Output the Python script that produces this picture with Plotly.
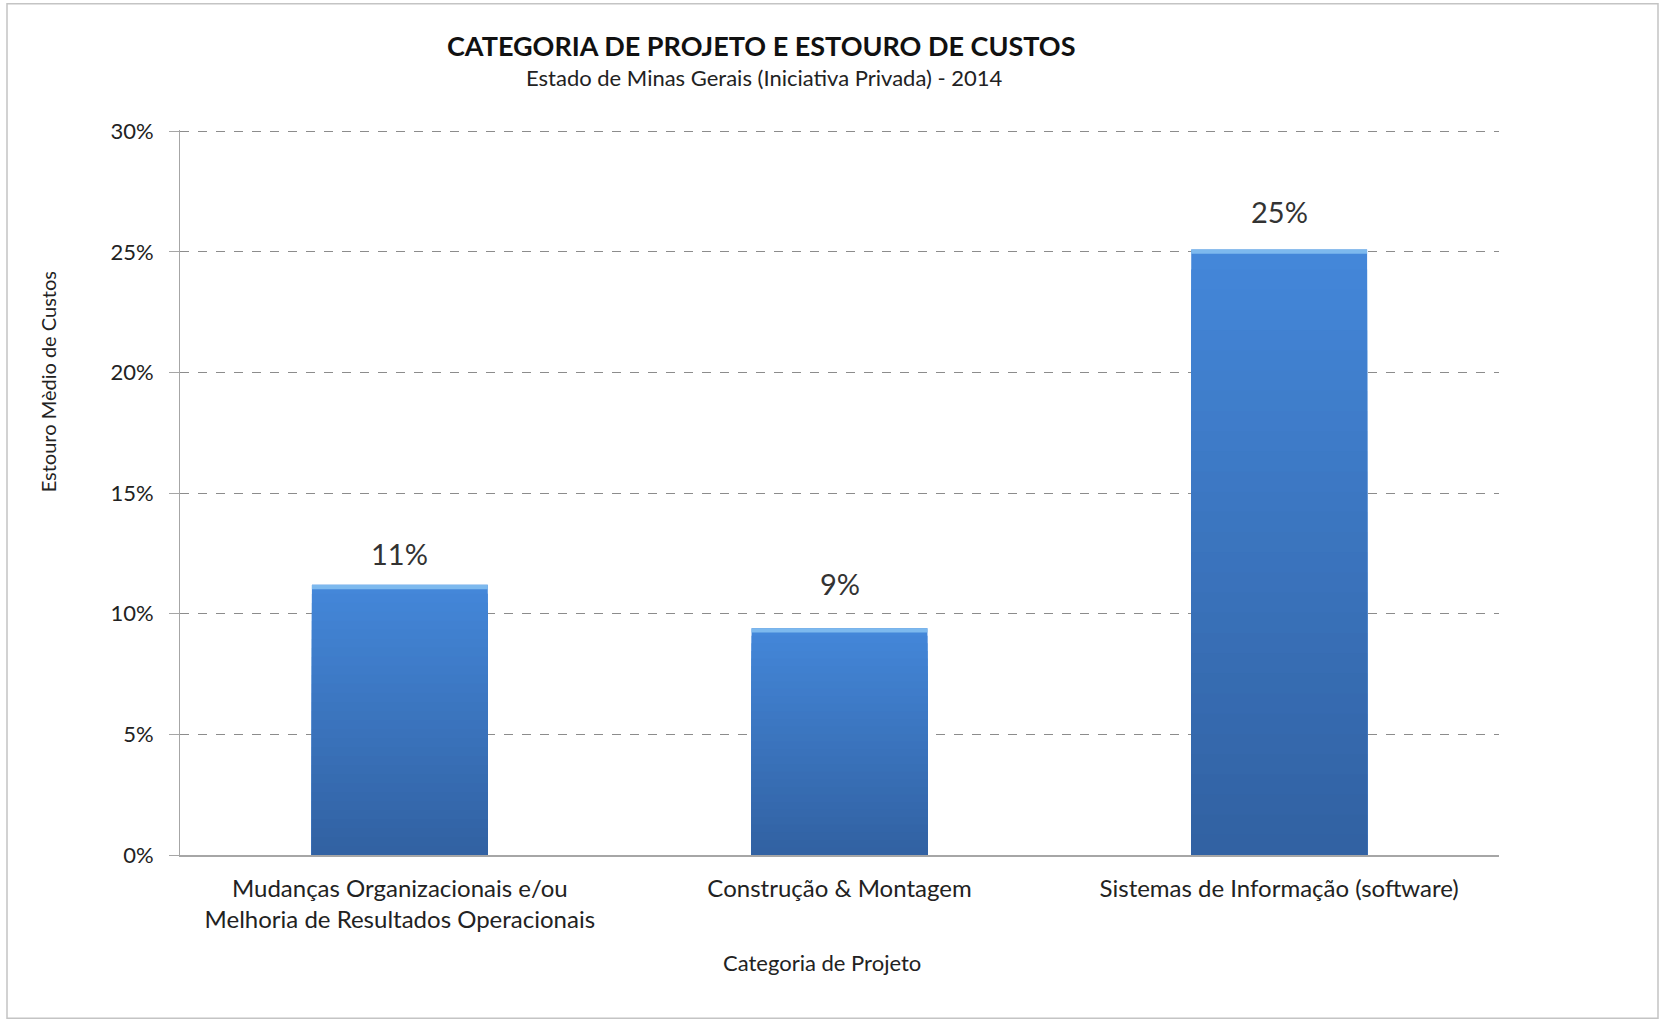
import plotly.graph_objects as go

# Data
categories = [
    "Mudanças Organizacionais e/ou<br>Melhoria de Resultados Operacionais",
    "Construção & Montagem",
    "Sistemas de Informação (software)",
]
overrun = [0.112, 0.094, 0.251]
y_ticks = [0, 0.05, 0.10, 0.15, 0.20, 0.25, 0.30]

# Vertical pixel offset of each value label above its bar
label_offsets = [12, 25, 18]

# Layout geometry (pixels)
W, H = 1661, 1025
L, R, T, B = 180, 162, 131, 170
PW, PH = W - L - R, H - T - B


def px(x):
    return (x - L) / PW


def py(y):
    return (H - B - y) / PH


FONT = "Lato"
TOP_RGB = (68, 135, 217)
BOT_RGB = (50, 98, 163)
STEPS = 30

fig = go.Figure()

# Vertical gradient: stacked overlays of shrinking height, light at top, dark at bottom
for i in range(STEPS):
    f = 1 - i / STEPS
    t = i / (STEPS - 1)
    r, g, b = (int(TOP_RGB[k] + (BOT_RGB[k] - TOP_RGB[k]) * t) for k in range(3))
    fig.add_trace(go.Bar(
        x=categories, y=[v * f for v in overrun], width=0.4,
        marker=dict(color=f"rgb({r},{g},{b})", line=dict(width=0)),
        hoverinfo="skip" if i else "y", showlegend=False,
    ))

# Light highlight strip on top of each bar
cap = 0.0018
fig.add_trace(go.Bar(
    x=categories, y=[cap] * len(overrun), base=[v - cap for v in overrun], width=0.4,
    marker=dict(color="rgb(125,185,238)", line=dict(width=0)),
    hoverinfo="skip", showlegend=False,
))

# Value labels above bars
for c, v, off in zip(categories, overrun, label_offsets):
    fig.add_annotation(x=c, y=v, text=f"{v:.0%}", showarrow=False, yanchor="bottom",
                       yshift=off, font=dict(family=FONT, size=29, color="#333333"))

annotations_text = [
    dict(text="<b>CATEGORIA DE PROJETO E ESTOURO DE CUSTOS</b>", x=px(761), y=py(47),
         font=dict(size=27, color="#111111")),
    dict(text="Estado de Minas Gerais (Iniciativa Privada) - 2014", x=px(764), y=py(79),
         font=dict(size=22, color="#222222")),
    dict(text="Categoria de Projeto", x=px(822), y=py(962),
         font=dict(size=22, color="#222222")),
    dict(text="Estouro Mèdio de Custos", x=px(48), y=py(383), textangle=-90,
         font=dict(size=20, color="#222222")),
]
for a in annotations_text:
    a["font"]["family"] = FONT
    fig.add_annotation(xref="paper", yref="paper", showarrow=False,
                       xanchor="center", yanchor="middle", **a)

# Outer chart border
fig.add_shape(type="rect", xref="paper", yref="paper",
              x0=px(7), x1=px(1658), y0=py(1018), y1=py(5),
              line=dict(color="#C4C4C4", width=1.5), layer="below")

fig.update_layout(
    width=W, height=H,
    margin=dict(l=L, r=R, t=T - 1, b=B),
    barmode="overlay",
    bargap=0.6,
    plot_bgcolor="white", paper_bgcolor="white",
    font=dict(family=FONT, color="#333333"),
    showlegend=False,
)
fig.update_xaxes(
    showgrid=False, showline=True, linecolor="#A6A6A6", linewidth=2,
    ticks="", tickfont=dict(family=FONT, size=24, color="#222222"),
    ticklabelstandoff=11, fixedrange=True,
)
fig.update_yaxes(
    range=[0, 0.3005], tickvals=y_ticks, tickformat=".0%",
    showgrid=True, gridcolor="#8C8C8C", griddash="dash", gridwidth=1,
    showline=True, linecolor="#A6A6A6", linewidth=1,
    ticks="outside", ticklen=10, tickcolor="#A6A6A6",
    tickfont=dict(family=FONT, size=22, color="#222222"),
    ticklabelstandoff=11, zeroline=False, fixedrange=True,
)

fig.write_html("out.html")
